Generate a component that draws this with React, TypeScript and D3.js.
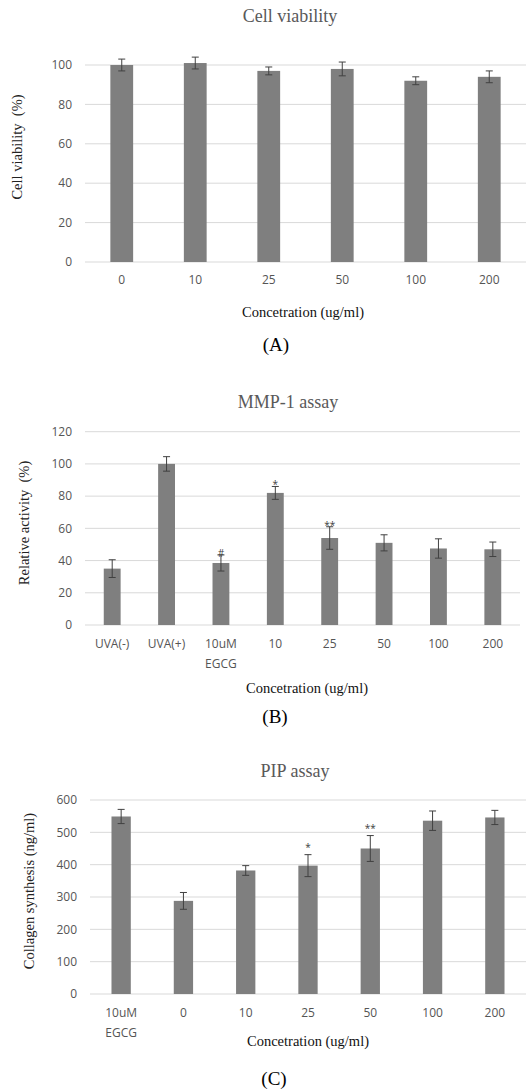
import React, { useEffect, useRef } from 'react';
import * as d3 from 'd3';

// (A) cell viability
const viabilityDoses = ['0', '10', '25', '50', '100', '200'];
const viabilityMeans = [100, 101, 97, 98, 92, 94];
const viabilityErrors = [3, 3, 2, 3.5, 2, 3];
const viabilityTicks = [0, 20, 40, 60, 80, 100];

// (B) MMP-1 assay
const mmpGroups = ['UVA(-)', 'UVA(+)', '10uM EGCG', '10', '25', '50', '100', '200'];
const mmpMeans = [35, 100, 38.5, 82, 54, 51, 47.5, 47];
const mmpErrors = [5.5, 4.5, 5, 4, 7, 5, 6, 4.5];
const mmpMarks = ['', '', '#', '*', '**', '', '', ''];
const mmpTicks = [0, 20, 40, 60, 80, 100, 120];

// (C) PIP assay
const pipGroups = ['10uM EGCG', '0', '10', '25', '50', '100', '200'];
const pipMeans = [549, 288, 382, 397, 450, 536, 546];
const pipErrors = [22, 26, 15, 34, 40, 30, 22];
const pipMarks = ['', '', '', '*', '**', '', ''];
const pipTicks = [0, 100, 200, 300, 400, 500, 600];

const SERIF = '"Liberation Serif", "Times New Roman", serif';
const SANS = '"Open Sans", "Noto Sans", sans-serif';

const panels = [
  {
    title: 'Cell viability', titleX: 290, titleY: 22,
    yLabel: 'Cell viability  (%)', yLabelX: 22, yLabelY: 147,
    xLabelX: 303, xLabelY: 317, caption: '(A)', captionX: 276, captionY: 351,
    cats: viabilityDoses, vals: viabilityMeans, errs: viabilityErrors, marks: [], markGap: 0,
    ticks: viabilityTicks, max: 100,
    left: 85, right: 526, top: 65, bottom: 262, tickRight: 72, catY: 280,
  },
  {
    title: 'MMP-1 assay', titleX: 288, titleY: 408,
    yLabel: 'Relative activity  (%)', yLabelX: 29, yLabelY: 523,
    xLabelX: 307, xLabelY: 693, caption: '(B)', captionX: 275, captionY: 723,
    cats: mmpGroups, vals: mmpMeans, errs: mmpErrors, marks: mmpMarks, markGap: 2,
    ticks: mmpTicks, max: 120,
    left: 85, right: 520, top: 431.7, bottom: 625, tickRight: 72, catY: 644,
  },
  {
    title: 'PIP assay', titleX: 295, titleY: 777,
    yLabel: 'Collagen synthesis (ng/ml)', yLabelX: 34, yLabelY: 891,
    xLabelX: 308, xLabelY: 1046, caption: '(C)', captionX: 274, captionY: 1085,
    cats: pipGroups, vals: pipMeans, errs: pipErrors, marks: pipMarks, markGap: -4,
    ticks: pipTicks, max: 600,
    left: 90, right: 526, top: 800, bottom: 994, tickRight: 77, catY: 1013,
  },
];

const App = () => {
  const svgRef = useRef<SVGSVGElement>(null);

  useEffect(() => {
    const svg = d3.select(svgRef.current);
    svg.selectAll('*').remove();

    panels.forEach((p) => {
      const g = svg.append('g');
      const x = d3.scaleBand().domain(p.cats).range([p.left, p.right]).paddingInner(0.69).paddingOuter(0.345);
      const y = d3.scaleLinear().domain([0, p.max]).range([p.bottom, p.top]);

      // gridlines
      g.selectAll('.grid').data(p.ticks).enter().append('line')
        .attr('x1', p.left).attr('x2', p.right)
        .attr('y1', d => y(d)).attr('y2', d => y(d))
        .attr('stroke', '#d9d9d9').attr('stroke-width', 1);

      // y tick labels
      g.selectAll('.ytick').data(p.ticks).enter().append('text')
        .attr('x', p.tickRight).attr('y', d => y(d)).attr('dy', '0.35em')
        .attr('text-anchor', 'end')
        .style('font-family', SANS).style('font-size', '12px').style('fill', '#555')
        .text(d => d);

      // bars
      g.selectAll('.bar').data(p.vals).enter().append('rect')
        .attr('x', (d, i) => x(p.cats[i]))
        .attr('y', d => y(d))
        .attr('width', x.bandwidth())
        .attr('height', d => p.bottom - y(d))
        .attr('fill', '#7f7f7f');

      // error bars
      const cx = (i) => x(p.cats[i]) + x.bandwidth() / 2;
      const err = g.selectAll('.err').data(p.vals).enter().append('g')
        .attr('stroke', '#404040').attr('stroke-width', 1);
      err.append('line')
        .attr('x1', (d, i) => cx(i)).attr('x2', (d, i) => cx(i))
        .attr('y1', (d, i) => y(d + p.errs[i])).attr('y2', (d, i) => y(d - p.errs[i]));
      err.append('line')
        .attr('x1', (d, i) => cx(i) - 3.5).attr('x2', (d, i) => cx(i) + 3.5)
        .attr('y1', (d, i) => y(d + p.errs[i])).attr('y2', (d, i) => y(d + p.errs[i]));
      err.append('line')
        .attr('x1', (d, i) => cx(i) - 3.5).attr('x2', (d, i) => cx(i) + 3.5)
        .attr('y1', (d, i) => y(d - p.errs[i])).attr('y2', (d, i) => y(d - p.errs[i]));

      // significance marks
      g.selectAll('.mark').data(p.marks).enter().append('text')
        .attr('x', (d, i) => cx(i))
        .attr('y', (d, i) => y(p.vals[i] + p.errs[i]) + p.markGap)
        .attr('text-anchor', 'middle')
        .style('font-family', SANS).style('font-size', d => (d === '#' ? '10px' : '10px'))
        .style('fill', '#404040')
        .text(d => d);

      // category labels
      const cat = g.selectAll('.cat').data(p.cats).enter().append('text')
        .attr('x', d => x(d) + x.bandwidth() / 2)
        .attr('y', p.catY)
        .attr('text-anchor', 'middle')
        .style('font-family', SANS).style('font-size', '12px').style('fill', '#555');
      cat.selectAll('tspan').data(d => d.split(' ')).enter().append('tspan')
        .attr('x', function () { return (this.parentNode as SVGTextElement).getAttribute('x'); })
        .attr('dy', (d, i) => (i === 0 ? '0.35em' : '20px'))
        .text(d => d);

      // title
      g.append('text')
        .attr('x', p.titleX).attr('y', p.titleY).attr('text-anchor', 'middle')
        .style('font-family', SERIF).style('font-size', '18px').style('fill', '#595959')
        .text(p.title);

      // y axis title
      g.append('text')
        .attr('transform', `translate(${p.yLabelX},${p.yLabelY}) rotate(-90)`)
        .attr('text-anchor', 'middle')
        .style('white-space', 'pre')
        .style('font-family', SERIF).style('font-size', '14.5px').style('fill', '#222')
        .text(p.yLabel);

      // x axis title
      g.append('text')
        .attr('x', p.xLabelX).attr('y', p.xLabelY).attr('text-anchor', 'middle')
        .style('font-family', SERIF).style('font-size', '14.5px').style('fill', '#111')
        .text('Concetration (ug/ml)');

      // caption
      g.append('text')
        .attr('x', p.captionX).attr('y', p.captionY).attr('text-anchor', 'middle')
        .style('font-family', SERIF).style('font-size', '19px').style('fill', '#000')
        .text(p.caption);
    });
  }, []);

  return (
    <svg
      ref={svgRef}
      width={529}
      height={1090}
      style={{ position: 'absolute', left: 0, top: 0, background: '#fff' }}
    ></svg>
  );
};

export default App;
